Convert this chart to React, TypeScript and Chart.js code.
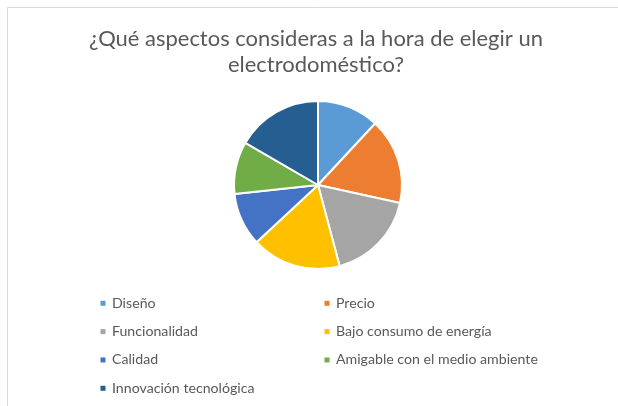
import React, { useEffect, useRef } from "react";
import { Chart, registerables } from "chart.js";

Chart.register(...registerables);

const titleLines = ["¿Qué aspectos consideras a la hora de elegir un", "electrodoméstico?"];
const categories = [
  "Diseño",
  "Precio",
  "Funcionalidad",
  "Bajo consumo de energía",
  "Calidad",
  "Amigable con el medio ambiente",
  "Innovación tecnológica",
];
const values = [11.9, 16.5, 17.4, 17.2, 10.2, 10.1, 16.6];
const colors = ["#5B9BD5", "#ED7D31", "#A5A5A5", "#FFC000", "#4472C4", "#70AD47", "#255E91"];

const FONT = "Lato, 'Liberation Sans', sans-serif";
const TEXT_COLOR = "#595959";

const decorPlugin = {
  id: "decor",
  beforeDraw(chart: any) {
    const ctx = chart.ctx;
    ctx.save();
    ctx.fillStyle = "#ffffff";
    ctx.fillRect(0, 0, chart.width, chart.height);
    ctx.strokeStyle = "#d9d9d9";
    ctx.lineWidth = 1;
    ctx.beginPath();
    ctx.moveTo(7.5, chart.height);
    ctx.lineTo(7.5, 7.5);
    ctx.lineTo(chart.width, 7.5);
    ctx.stroke();
    ctx.restore();
  },
  afterDraw(chart: any) {
    const ctx = chart.ctx;
    ctx.save();
    // Title
    let size = 20;
    ctx.font = `${size}px ${FONT}`;
    const w = ctx.measureText(titleLines[0]).width;
    size = (size * 454) / w;
    ctx.font = `${size}px ${FONT}`;
    ctx.fillStyle = TEXT_COLOR;
    ctx.textAlign = "center";
    ctx.textBaseline = "alphabetic";
    titleLines.forEach((line, i) => {
      ctx.fillText(line, 316, 46 + i * 26);
    });

    // Legend
    let ls = 12;
    ctx.font = `${ls}px ${FONT}`;
    const lw = ctx.measureText(categories[5]).width;
    ls = (ls * 202) / lw;
    ctx.font = `${ls}px ${FONT}`;
    ctx.textAlign = "left";
    const labels = chart.data.labels as string[];
    const bg = chart.data.datasets[0].backgroundColor as string[];
    labels.forEach((label, i) => {
      const col = i % 2;
      const row = Math.floor(i / 2);
      const mx = col === 0 ? 100.5 : 324.5;
      const tx = col === 0 ? 112 : 336;
      const cy = 303.3 + row * 28.33;
      ctx.fillStyle = bg[i];
      ctx.fillRect(mx, cy - 2.5, 5, 5);
      ctx.fillStyle = TEXT_COLOR;
      ctx.fillText(label, tx, cy + 4.5);
    });
    ctx.restore();
  },
};

export default function App() {
  const ref = useRef<HTMLCanvasElement | null>(null);
  useEffect(() => {
    if (!ref.current) return;
    const chart = new Chart(ref.current, {
      type: "pie",
      data: {
        labels: categories,
        datasets: [
          {
            data: values,
            backgroundColor: colors,
            borderColor: "#ffffff",
            borderWidth: 2,
          },
        ],
      },
      options: {
        responsive: false,
        animation: false,
        devicePixelRatio: 1,
        layout: { padding: { top: 100, bottom: 136, left: 148, right: 130 } },
        plugins: {
          legend: { display: false },
          title: { display: false },
          tooltip: { enabled: false },
        },
      },
      plugins: [decorPlugin],
    });
    return () => chart.destroy();
  }, []);
  return (
    <div style={{ position: "fixed", left: 0, top: 0, width: 618, height: 406, background: "#fff" }}>
      <canvas ref={ref} width={618} height={406} />
    </div>
  );
}
